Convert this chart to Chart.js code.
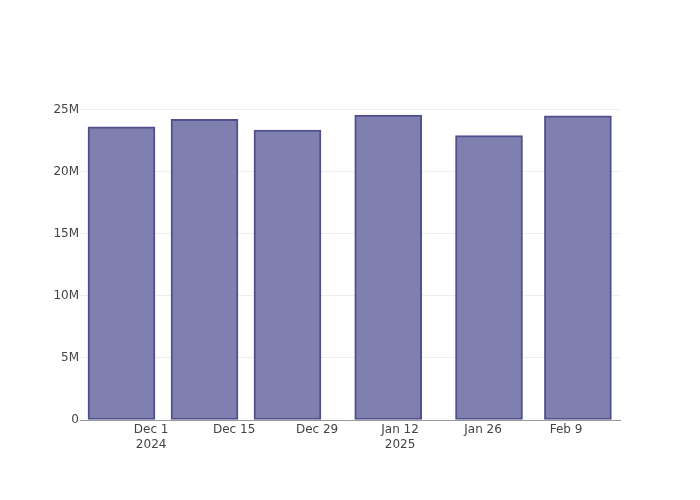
<!DOCTYPE html>
<html>
<head>
<meta charset="utf-8">
<script src="https://cdn.jsdelivr.net/npm/chart.js@4/dist/chart.umd.min.js"></script>
<style>
  html, body { margin: 0; padding: 0; background: #fff; }
  #wrap { width: 700px; height: 500px; }
</style>
</head>
<body>
<div id="wrap"><canvas id="chart" width="700" height="500"></canvas></div>
<script>
// Bar dates (period centres) and totals
const barDates  = ['2024-11-26', '2024-12-10', '2024-12-24', '2025-01-10', '2025-01-27', '2025-02-11']
const barValues = [23630000, 24250000, 23370000, 24580000, 22930000, 24520000]

// Tick dates and labels of the x axis
const tickDates  = ['2024-12-01', '2024-12-15', '2024-12-29', '2025-01-12', '2025-01-26', '2025-02-09']
const tickLabels = [['Dec 1', '2024'], 'Dec 15', 'Dec 29', ['Jan 12', '2025'], 'Jan 26', 'Feb 9']

const xRange = ['2024-11-19', '2025-02-18']
const yMax   = 25800000

// days since Dec 1 2024, so a plain linear axis can stand in for a time axis
const origin = Date.UTC(2024, 11, 1)
const toDay  = (s) => {
  const [y, m, d] = s.split('-').map(n => parseInt(n, 10))
  return (Date.UTC(y, m - 1, d) - origin) / 86400000
}

const points   = barDates.map((d, i) => ({ x: toDay(d), y: barValues[i] }))
const tickDays = tickDates.map(toDay)

const font = { family: 'DejaVu Sans', size: 12, lineHeight: 1.25 }

new Chart(document.getElementById('chart'), {
  type: 'bar',
  data: {
    datasets: [{
      data:            points,
      backgroundColor: 'rgb(128, 128, 176)',
      borderColor:     'rgb(80, 80, 142)',
      borderWidth:     2,
      borderSkipped:   false,
      barThickness:    67
    }]
  },
  options: {
    responsive: false,
    animation:  false,
    layout: { padding: { top: 100, right: 80, left: 0, bottom: 0 } },
    plugins: {
      legend:  { display: false },
      tooltip: { enabled: false }
    },
    scales: {
      x: {
        type:   'linear',
        offset: false,
        min:  toDay(xRange[0]),
        max:  toDay(xRange[1]) + 0.1,
        afterFit: (scale) => { scale.height = 80 },
        afterBuildTicks: (scale) => { scale.ticks = tickDays.map(v => ({ value: v })) },
        ticks: {
          color:    '#444',
          font:     font,
          padding:  2,
          maxRotation: 0,
          autoSkip: false,
          callback: (value) => {
            const i = tickDays.indexOf(value)
            return i >= 0 ? tickLabels[i] : ''
          }
        },
        grid:   { display: false, drawTicks: false, offset: false },
        border: { display: true, color: '#999', width: 1 }
      },
      y: {
        min: 0,
        max: yMax,
        afterFit: (scale) => { scale.width = 80 },
        afterBuildTicks: (scale) => {
          const ticks = []
          for( let v = 0; v <= yMax; v += 5000000 ) ticks.push({ value: v })
          scale.ticks = ticks
        },
        ticks: {
          color:   '#444',
          font:    font,
          padding: 1,
          callback: (value) => value === 0 ? '0' : (value / 1000000) + 'M'
        },
        grid:   { color: '#eee', lineWidth: 1, drawTicks: false },
        border: { display: false }
      }
    }
  }
})
</script>
</body>
</html>
